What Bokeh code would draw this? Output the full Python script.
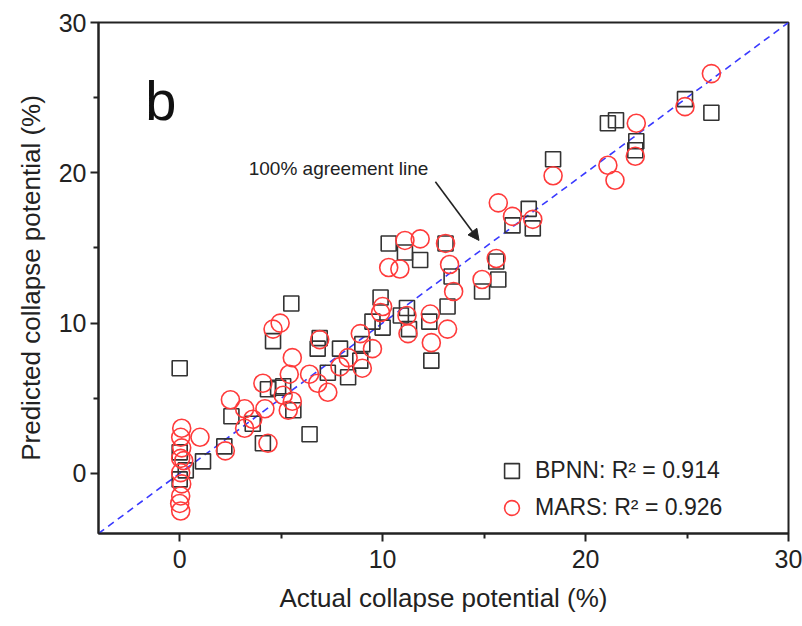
from bokeh.plotting import figure
from bokeh.models import (Range1d, FixedTicker, Legend, LegendItem, Arrow, NormalHead, Label)
from bokeh.embed import file_html
from bokeh.resources import INLINE

bpnn_actual = [0.0, 0.0, 0.3, 0.0, 1.15, 2.2, 2.55, 4.1, 4.35, 4.6, 4.85, 5.5, 6.8, 7.9,
               7.3, 8.3, 8.9, 9.0, 9.5, 9.9, 10.0, 5.1, 5.6, 6.4, 3.6, 6.9, 10.3, 11.1,
               11.85, 13.1, 13.4, 13.2, 14.9, 15.7, 15.6, 16.4, 11.2, 10.9, 11.3, 12.3,
               12.4, 17.2, 17.4, 18.4, 21.1, 21.5, 22.5, 22.45, 24.9, 26.2]
bpnn_pred = [7.0, 1.4, 0.2, -0.4, 0.8, 1.8, 3.8, 2.0, 5.6, 8.8, 5.7, 11.3, 8.3, 8.3,
             6.7, 6.4, 7.5, 8.6, 10.1, 11.7, 9.7, 5.8, 4.2, 2.6, 3.3, 9.0, 15.3, 14.7,
             14.2, 15.3, 13.1, 11.1, 12.1, 12.9, 14.1, 16.5, 11.0, 10.5, 9.6, 10.1,
             7.5, 17.6, 16.3, 20.9, 23.3, 23.5, 22.1, 21.5, 24.9, 24.0]

mars_actual = [0.1, 0.05, 0.1, 0.05, 0.2, 0.05, 0.1, 0.05, 0.0, 0.05,
               1.0, 2.25, 2.5, 3.2, 3.6, 3.2, 4.1, 4.2, 4.35,
               4.95, 4.6, 5.55, 5.4, 5.1, 5.55, 5.35,
               6.9, 6.4, 6.8, 7.3, 7.9, 8.3, 9.0, 8.9, 9.5, 9.9, 10.0,
               11.1, 11.85, 10.3, 10.85, 13.1, 13.3, 13.5, 14.9, 15.6, 15.7, 16.4,
               11.2, 11.25, 12.35, 13.2, 12.4,
               17.4, 18.4, 21.1, 21.45, 22.5, 22.45, 24.9, 26.2]
mars_pred = [3.0, 2.4, 1.7, 1.0, 0.85, 0.05, -0.7, -1.5, -2.0, -2.5,
             2.4, 1.5, 4.9, 4.3, 3.6, 3.0, 6.0, 4.3, 2.0,
             10.0, 9.6, 7.7, 6.6, 5.2, 4.8, 4.2,
             8.9, 6.6, 6.0, 5.4, 7.1, 7.7, 7.0, 9.3, 8.3, 10.7, 11.1,
             15.5, 15.6, 13.7, 13.6, 15.3, 13.9, 12.1, 12.9, 14.3, 18.0, 17.1,
             10.5, 9.3, 10.6, 9.6, 8.7,
             16.9, 19.8, 20.5, 19.5, 23.3, 21.1, 24.4, 26.6]

axis_min, axis_max = -4, 30
major_ticks = [0, 10, 20, 30]
minor_ticks = [5, 15, 25]

FONT = "Liberation Sans"

p = figure(width=802, height=626, output_backend="svg", toolbar_location=None,
           x_range=Range1d(axis_min, axis_max), y_range=Range1d(axis_min, axis_max),
           min_border_left=98, min_border_right=14, min_border_top=22, min_border_bottom=93)
p.grid.visible = False
p.outline_line_color = "#222222"
p.outline_line_width = 2
p.background_fill_color = "white"
p.border_fill_color = "white"

for ax in (p.xaxis[0], p.yaxis[0]):
    ax.ticker = FixedTicker(ticks=major_ticks, minor_ticks=minor_ticks)
    ax.axis_line_width = 2
    ax.axis_line_color = "#222222"
    ax.major_tick_line_width = 2
    ax.major_tick_line_color = "#222222"
    ax.minor_tick_line_width = 2
    ax.minor_tick_line_color = "#222222"
    ax.major_tick_out = 8
    ax.major_tick_in = 0
    ax.minor_tick_out = 5
    ax.minor_tick_in = 0
    ax.major_label_text_font = FONT
    ax.major_label_text_font_size = "25px"
    ax.major_label_text_color = "#222222"
    ax.axis_label_text_font = FONT
    ax.axis_label_text_font_size = "26px"
    ax.axis_label_text_font_style = "normal"
    ax.axis_label_text_color = "#222222"

p.xaxis.axis_label = "Actual collapse potential (%)"
p.yaxis.axis_label = "Predicted collapse potential (%)"
p.xaxis.major_label_standoff = 8
p.yaxis.major_label_standoff = 4
p.xaxis.axis_label_standoff = 12
p.yaxis.axis_label_standoff = 10

p.line([axis_min, axis_max], [axis_min, axis_max], line_color="#3a3aff",
       line_dash="7 5", line_width=1.6)

r_b = p.scatter(bpnn_actual, bpnn_pred, marker="square", size=15, fill_alpha=0,
                line_color="#333333", line_width=1.6)
r_m = p.scatter(mars_actual, mars_pred, marker="circle", size=18, fill_alpha=0,
                line_color="#ff3b3b", line_width=1.6)

legend = Legend(items=[LegendItem(label="BPNN: R\u00b2 = 0.914", renderers=[r_b]),
                       LegendItem(label="MARS: R\u00b2 = 0.926", renderers=[r_m])],
                location=(390, 2), background_fill_alpha=0, border_line_alpha=0,
                label_text_font=FONT, label_text_font_size="23px",
                label_text_color="#222222", glyph_width=37, glyph_height=37,
                spacing=0, padding=5, label_standoff=5)
p.add_layout(legend)

p.add_layout(Label(x=-1.7, y=24.8, text="b", text_font=FONT, text_font_size="56px",
                   text_baseline="middle", text_color="#111111"))
p.add_layout(Label(x=12.25, y=20.3, text="100% agreement line", text_font=FONT,
                   text_font_size="19px", text_baseline="middle", text_align="right",
                   text_color="#222222"))
p.add_layout(Arrow(x_start=12.6, y_start=19.4, x_end=14.75, y_end=15.5,
                   line_color="#222222", line_width=1.6,
                   end=NormalHead(size=11, fill_color="#222222", line_color="#222222")))

open("out.html", "w").write(file_html(p, INLINE))
